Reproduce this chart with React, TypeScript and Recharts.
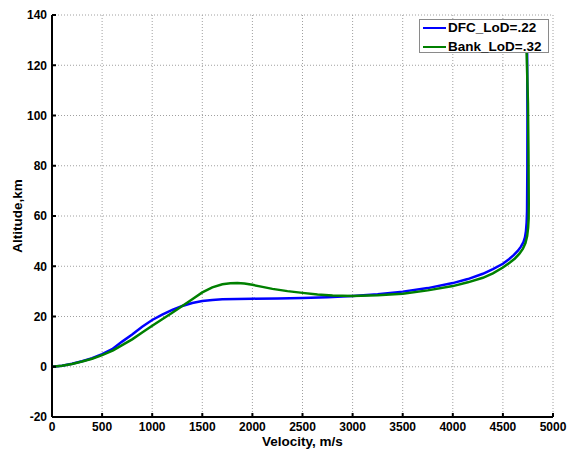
import React from 'react';
import { LineChart, Line, XAxis, YAxis, CartesianGrid, Legend } from 'recharts';

const xTicks = [0, 500, 1000, 1500, 2000, 2500, 3000, 3500, 4000, 4500, 5000];
const yTicks = [-20, 0, 20, 40, 60, 80, 100, 120, 140];

const seriesNames = ['DFC_LoD=.22', 'Bank_LoD=.32'];
const seriesColors = ['#0000ff', '#008000'];

const dfcVelocity = [0, 100, 200, 300, 400, 500, 600, 700, 800, 900, 1000, 1100, 1200, 1300, 1400, 1500, 1600, 1700, 1850, 2000, 2250, 2500, 2750, 3000, 3250, 3500, 3750, 4000, 4150, 4300, 4400, 4500, 4560, 4610, 4650, 4680, 4705, 4720, 4730, 4737, 4741, 4744, 4745, 4742];
const dfcAltitude = [0, 0.4, 1.2, 2.2, 3.4, 5.0, 7.0, 10.0, 12.8, 15.9, 18.6, 20.7, 22.6, 24.2, 25.4, 26.2, 26.6, 26.9, 27.0, 27.1, 27.2, 27.4, 27.7, 28.2, 28.9, 29.9, 31.3, 33.3, 34.9, 37.0, 38.9, 41.0, 42.8, 44.5, 46.2, 47.8, 49.6, 51.5, 54.0, 57.5, 62.0, 80, 100, 125];

const bankVelocity = [0, 100, 200, 300, 400, 500, 610, 700, 800, 900, 1000, 1100, 1200, 1300, 1400, 1500, 1600, 1700, 1780, 1850, 1920, 2000, 2100, 2200, 2350, 2500, 2650, 2800, 3000, 3250, 3500, 3750, 4000, 4150, 4300, 4400, 4500, 4570, 4620, 4665, 4700, 4725, 4742, 4752, 4757, 4758, 4755, 4750, 4737];
const bankAltitude = [0, 0.4, 1.1, 2.1, 3.2, 4.6, 6.5, 8.6, 10.9, 13.6, 16.3, 18.9, 21.5, 24.2, 26.9, 29.6, 31.6, 32.8, 33.2, 33.3, 33.1, 32.6, 31.8, 31.0, 30.1, 29.4, 28.8, 28.4, 28.2, 28.5, 29.1, 30.4, 32.1, 33.6, 35.4, 37.2, 39.5, 41.5, 43.1, 45.0, 47.0, 49.2, 52.0, 55.5, 59.0, 65.0, 85, 105, 125];

const dfcData = dfcVelocity.map((v, i) => ({ v, alt: dfcAltitude[i] }));
const bankData = bankVelocity.map((v, i) => ({ v, alt: bankAltitude[i] }));

const FONT = '"Liberation Sans", Arial, Helvetica, sans-serif';
const tickStyle = { fill: '#000', fontSize: 12, fontWeight: 'bold', fontFamily: FONT } as any;
const axisLineStyle = { stroke: '#000', strokeWidth: 2 };
const tickLineStyle = { stroke: '#000', strokeWidth: 2 };

const LegendBox = () => (
  <div
    style={{
      width: 128,
      height: 32,
      border: '1px solid #8a8a8a',
      background: '#fff',
      fontFamily: FONT,
      fontWeight: 'bold',
      fontSize: 13.5,
      color: '#000',
      boxSizing: 'content-box',
    }}
  >
    {seriesNames.map((name, i) => (
      <div
        key={name}
        style={{ display: 'flex', alignItems: 'center', height: 16, lineHeight: '16px', marginTop: i === 0 ? 0 : 3 }}
      >
        <div style={{ width: 23, height: 2.5, background: seriesColors[i], marginLeft: 3, marginRight: 2 }} />
        <span>{name}</span>
      </div>
    ))}
  </div>
);

export default function App() {
  return (
    <div style={{ position: 'absolute', left: 0, top: 0, width: 568, height: 451, overflow: 'hidden', background: '#fff' }}>
      <LineChart width={568} height={451} margin={{ top: 15, right: 15, bottom: 0, left: 0 }}>
        <CartesianGrid stroke="#a0a0a0" strokeDasharray="1 2" />
        <XAxis
          xAxisId={0}
          dataKey="v"
          type="number"
          domain={[0, 5000]}
          ticks={xTicks}
          interval={0}
          height={34}
          axisLine={axisLineStyle}
          tickLine={tickLineStyle}
          tickSize={-4}
          tickMargin={9}
          tick={tickStyle}
          label={{ value: 'Velocity, m/s', position: 'insideBottom', offset: 5, style: { fill: '#000', fontSize: 13.5, fontWeight: 'bold', fontFamily: FONT } }}
        />
        <XAxis
          xAxisId="top"
          orientation="top"
          type="number"
          domain={[0, 5000]}
          ticks={xTicks}
          interval={0}
          height={0}
          allowDataOverflow
          axisLine={axisLineStyle}
          tickLine={tickLineStyle}
          tickSize={-4}
          tick={false}
        />
        <YAxis
          yAxisId={0}
          type="number"
          domain={[-20, 140]}
          ticks={yTicks}
          interval={0}
          width={52}
          axisLine={axisLineStyle}
          tickLine={tickLineStyle}
          tickSize={-4}
          tickMargin={9}
          tick={tickStyle}
          label={{ value: 'Altitude,km', angle: -90, position: 'insideLeft', offset: 17, style: { textAnchor: 'middle', fill: '#000', fontSize: 13.5, fontWeight: 'bold', fontFamily: FONT } }}
        />
        <YAxis
          yAxisId="right"
          orientation="right"
          type="number"
          domain={[-20, 140]}
          ticks={yTicks}
          interval={0}
          width={0}
          allowDataOverflow
          axisLine={axisLineStyle}
          tickLine={tickLineStyle}
          tickSize={-4}
          tick={false}
        />
        <Line
          data={dfcData}
          dataKey="alt"
          name={seriesNames[0]}
          type="linear"
          stroke={seriesColors[0]}
          strokeWidth={2.5}
          dot={false}
          isAnimationActive={false}
        />
        <Line
          data={bankData}
          dataKey="alt"
          name={seriesNames[1]}
          type="linear"
          stroke={seriesColors[1]}
          strokeWidth={2.5}
          dot={false}
          isAnimationActive={false}
        />
        <Legend
          layout="horizontal"
          verticalAlign="middle"
          align="center"
          content={() => <LegendBox />}
          wrapperStyle={{ position: 'absolute', left: 419, top: 19, width: 130, height: 34 }}
        />
      </LineChart>
    </div>
  );
}
